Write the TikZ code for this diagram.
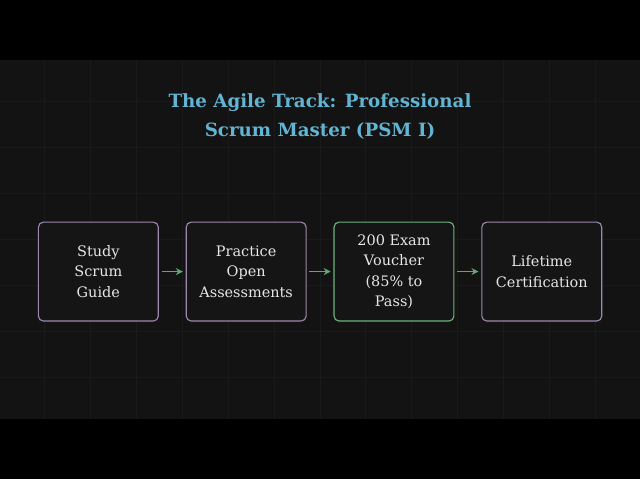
\documentclass[tikz,border=0pt]{standalone}
\usepackage{fontspec}
\setmainfont{DejaVu Serif}
\usetikzlibrary{positioning,arrows.meta}

\definecolor{bardark}{HTML}{000000}
\definecolor{bgdark}{HTML}{131313}
\definecolor{gridgrey}{HTML}{1A1A1A}
\definecolor{boxfill}{HTML}{151515}
\definecolor{boxtext}{HTML}{E6E6E6}
\definecolor{titleblue}{HTML}{62B4D2}
\definecolor{edgepurple}{HTML}{9C88AC}
\definecolor{edgegreen}{HTML}{6CB47E}
\definecolor{arrowgreen}{HTML}{5FA874}

\begin{document}
\begin{tikzpicture}[x=0.025cm, y=-0.025cm, node distance=0.672cm,
    stepbox/.style={draw=edgepurple, fill=boxfill, rounded corners=3.5pt, line width=0.8pt,
        minimum width=3cm, minimum height=2.475cm, align=center, text=boxtext,
        font=\fontsize{10.3}{14.6}\selectfont},
    goalbox/.style={stepbox, draw=edgegreen},
    flow/.style={draw=arrowgreen, line width=0.9pt, -{Stealth[length=5pt,width=5pt]},
        shorten <=2pt, shorten >=2pt},
    gridline/.style={draw=gridgrey, line width=0.7pt}]
        % Frame and background
        \fill[bardark] (0,0) rectangle (640,480);
        \fill[bgdark] (0,60) rectangle (640,420);
        \foreach \k in {-6,...,6}
            \draw[gridline] ({320+46*\k},60) -- ({320+46*\k},420);
        \foreach \k in {-3,...,3}
            \draw[gridline] (0,{240+46*\k}) -- (640,{240+46*\k});

        % Title
        \node[text=titleblue, align=center, font=\fontsize{13}{20.6}\selectfont\bfseries] (title) at (320,117)
            {The Agile Track: Professional\\Scrum Master (PSM I)};

        % Steps
        \node[stepbox] (guide) at (98,272) {Study\\Scrum\\Guide};
        \node[stepbox, right=of guide] (practice) {Practice\\Open\\Assessments};
        \node[goalbox, right=of practice] (voucher) {200 Exam\\Voucher\\(85\% to\\Pass)};
        \node[stepbox, right=of voucher] (lifetime) {Lifetime\\Certification};

        % Connections
        \draw[flow] (guide) -- (practice);
        \draw[flow] (practice) -- (voucher);
        \draw[flow] (voucher) -- (lifetime);
    \end{tikzpicture}
\end{document}
